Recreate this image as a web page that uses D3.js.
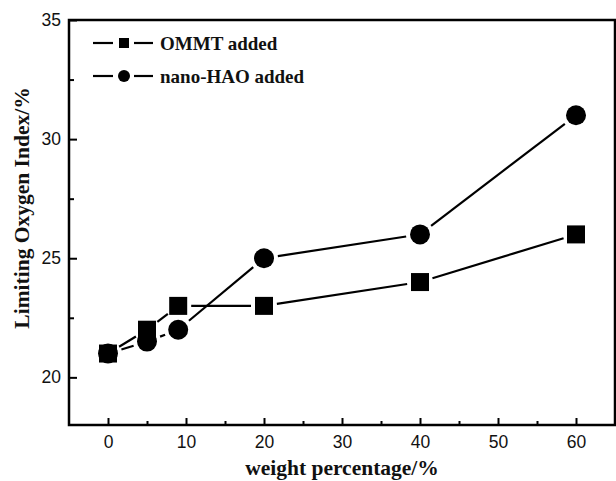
<!DOCTYPE html>
<html><head><meta charset="utf-8">
<script src="https://cdn.jsdelivr.net/npm/d3@7"></script>
<style>body{margin:0;background:#fff}svg{display:block}</style>
</head><body>
<script>
const xValues = [0, 5, 9, 20, 40, 60];
const ommtValues = [21, 22, 23, 23, 24, 26];
const haoValues = [21, 21.5, 22, 25, 26, 31];
const seriesNames = ["OMMT added", "nano-HAO added"];
const xTicks = [0, 10, 20, 30, 40, 50, 60];
const yTicks = [20, 25, 30, 35];
const xTitle = "weight percentage/%";
const yTitle = "Limiting Oxygen Index/%";

const W = 616, H = 481;
const m = {left: 69, right: 1, top: 20, bottom: 56};
const svg = d3.select("body").append("svg").attr("width", W).attr("height", H);
const x = d3.scaleLinear().domain([-5, 65]).range([m.left, W - m.right]);
const y = d3.scaleLinear().domain([18, 35]).range([H - m.bottom, m.top]);

const sans = "'Liberation Sans', Arial, sans-serif";
const serif = "'Liberation Serif', 'Times New Roman', serif";

const xMinor = d3.range(-5, 66, 5).filter(v => v % 10 !== 0 && v > -5 && v < 65);
const yMinor = [22.5, 27.5, 32.5];

const gx = svg.append("g").attr("transform", `translate(0,${H - m.bottom})`)
  .call(d3.axisBottom(x).tickValues(xTicks).tickSize(-7).tickPadding(11).tickFormat(d3.format("d")));
gx.select(".domain").remove();
gx.selectAll("line").attr("stroke", "#000").attr("stroke-width", 2);
gx.selectAll("text").attr("font-family", sans).attr("font-size", 17.5).attr("fill", "#111");
svg.append("g").attr("transform", `translate(0,${H - m.bottom})`)
  .call(d3.axisBottom(x).tickValues(xMinor).tickSize(-4).tickFormat(""))
  .call(g => g.select(".domain").remove())
  .selectAll("line").attr("stroke", "#000").attr("stroke-width", 2);

const gy = svg.append("g").attr("transform", `translate(${m.left},0)`)
  .call(d3.axisLeft(y).tickValues(yTicks).tickSize(-8).tickPadding(8).tickFormat(d3.format("d")));
gy.select(".domain").remove();
gy.selectAll("line").attr("stroke", "#000").attr("stroke-width", 2);
gy.selectAll("text").attr("font-family", sans).attr("font-size", 17.5).attr("fill", "#111");
svg.append("g").attr("transform", `translate(${m.left},0)`)
  .call(d3.axisLeft(y).tickValues(yMinor).tickSize(-5).tickFormat(""))
  .call(g => g.select(".domain").remove())
  .selectAll("line").attr("stroke", "#000").attr("stroke-width", 2);

svg.append("rect").attr("x", m.left).attr("y", m.top)
  .attr("width", W - m.right - m.left).attr("height", H - m.bottom - m.top)
  .attr("fill", "none").attr("stroke", "#000").attr("stroke-width", 2.5);

const series = [
  {name: seriesNames[0], vals: ommtValues, shape: "square", gap: 13},
  {name: seriesNames[1], vals: haoValues, shape: "circle", gap: 14}
];

series.forEach(s => {
  const pts = xValues.map((xv, i) => [x(xv), y(s.vals[i])]);
  const segs = d3.pairs(pts);
  svg.append("g").selectAll("line").data(segs).join("line")
    .each(function([a, b]) {
      const dx = b[0] - a[0], dy = b[1] - a[1], L = Math.hypot(dx, dy);
      const ux = dx / L, uy = dy / L;
      const g = Math.min(s.gap, L / 2 - 1);
      d3.select(this)
        .attr("x1", a[0] + ux * g).attr("y1", a[1] + uy * g)
        .attr("x2", b[0] - ux * g).attr("y2", b[1] - uy * g);
    })
    .attr("stroke", "#000").attr("stroke-width", 2.2);
});

series.forEach(s => {
  const g = svg.append("g");
  const pts = xValues.map((xv, i) => [x(xv), y(s.vals[i])]);
  if (s.shape === "square") {
    g.selectAll("rect").data(pts).join("rect")
      .attr("x", d => d[0] - 9).attr("y", d => d[1] - 9)
      .attr("width", 18).attr("height", 18).attr("fill", "#000");
  } else {
    g.selectAll("circle").data(pts).join("circle")
      .attr("cx", d => d[0]).attr("cy", d => d[1]).attr("r", 10).attr("fill", "#000");
  }
});

const leg = svg.append("g");
series.forEach((s, i) => {
  const cy = 43 + i * 33;
  leg.append("line").attr("x1", 93).attr("x2", 113).attr("y1", cy).attr("y2", cy).attr("stroke", "#000").attr("stroke-width", 2.2);
  leg.append("line").attr("x1", 134).attr("x2", 153).attr("y1", cy).attr("y2", cy).attr("stroke", "#000").attr("stroke-width", 2.2);
  if (s.shape === "square") {
    leg.append("rect").attr("x", 119).attr("y", cy - 5).attr("width", 10).attr("height", 10).attr("fill", "#000");
  } else {
    leg.append("circle").attr("cx", 124).attr("cy", cy).attr("r", 6).attr("fill", "#000");
  }
  leg.append("text").attr("x", 160).attr("y", cy + 7).text(s.name)
    .attr("font-family", serif).attr("font-weight", "bold").attr("font-size", 19).attr("fill", "#111");
});

svg.append("text").attr("x", 342).attr("y", 475).attr("text-anchor", "middle")
  .text(xTitle).attr("font-family", serif).attr("font-weight", "bold").attr("font-size", 21.5).attr("fill", "#111");
svg.append("text").attr("transform", `translate(28.5,208) rotate(-90)`)
  .attr("text-anchor", "middle").text(yTitle)
  .attr("font-family", serif).attr("font-weight", "bold").attr("font-size", 21.5).attr("fill", "#111");
</script>
</body></html>
